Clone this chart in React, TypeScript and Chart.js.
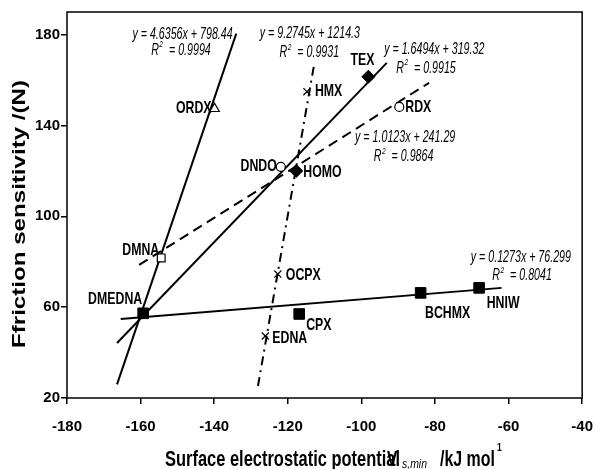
import React, { useEffect, useRef } from 'react';
import { Chart, registerables } from 'chart.js';
Chart.register(...registerables);

// ---- axis ticks ----
const xTicks = [-180, -160, -140, -120, -100, -80, -60, -40];
const yTicks = [20, 60, 100, 140, 180];

// ---- data points ----
const sqNames = ['DMEDNA', 'CPX', 'BCHMX', 'HNIW'];
const sqX = [-159.3, -116.9, -83.9, -68.0];
const sqY = [57.3, 57.0, 66.3, 68.5];

const dmNames = ['TEX', 'HOMO'];
const dmX = [-98.1, -117.7];
const dmY = [161.5, 120.0];

const circNames = ['RDX', 'DNDO'];
const circX = [-89.7, -121.9];
const circY = [148.2, 121.8];

const triNames = ['ORDX'];
const triX = [-139.9];
const triY = [147.4];

const osqNames = ['DMNA'];
const osqX = [-154.4];
const osqY = [81.7];

const crossNames = ['HMX', 'OCPX', 'EDNA'];
const crossX = [-114.8, -122.7, -126.1];
const crossY = [154.9, 74.6, 47.3];

// ---- trend line end points ----
const fitSteepX = [-166.4, -134.0];
const fitSteepY = [26.0, 180.5];
const fitTexX = [-166.4, -93.1];
const fitTexY = [44.2, 167.6];
const fitDashX = [-160.4, -81.6];
const fitDashY = [78.6, 158.8];
const fitDotX = [-128.1, -112.9];
const fitDotY = [25.3, 166.3];
const fitSqX = [-165.4, -61.9];
const fitSqY = [54.8, 68.5];

// ---- equation annotations ----
const eqTexts = ['y = 4.6356x + 798.44', 'y = 9.2745x + 1214.3', 'y = 1.6494x + 319.32', 'y = 1.0123x + 241.29', 'y = 0.1273x + 76.299'];
const eqR2 = ['0.9994', '0.9931', '0.9915', '0.9864', '0.8041'];
const eqX = [-148.6, -114.0, -80.2, -88.1, -56.65];
const eqY = [180.0, 180.4, 173.4, 134.6, 81.7];
const r2X = [-149.1, -114.2, -82.5, -88.6, -56.4];
const r2Y = [172.9, 172.0, 165.0, 126.2, 73.8];

const pts = (xs: number[], ys: number[]) => xs.map((x, i) => ({ x, y: ys[i] }));

// label pixel offsets relative to marker: [dx, dy, align]
const labelOffsets: Record<string, [number, number, string]> = {
  DMEDNA: [-1, -14, 'right'],
  CPX: [7, 11, 'left'],
  BCHMX: [27, 20, 'center'],
  HNIW: [24, 15, 'center'],
  TEX: [-6, -16, 'center'],
  HOMO: [7, 1, 'left'],
  RDX: [6, 0, 'left'],
  DNDO: [-4, 0, 'right'],
  ORDX: [-3, 0, 'right'],
  DMNA: [-2, -8, 'right'],
  HMX: [8, 0, 'left'],
  OCPX: [8, 1, 'left'],
  EDNA: [7, 2, 'left'],
};

const FAM = '"Liberation Sans", Arial, sans-serif';

function drawScaled(ctx: CanvasRenderingContext2D, text: string, x: number, y: number, font: string, sx: number, align: string, sy = 1) {
  ctx.save();
  ctx.font = font;
  ctx.textBaseline = 'middle';
  ctx.textAlign = 'left';
  const w = ctx.measureText(text).width * sx;
  const left = align === 'left' ? x : align === 'right' ? x - w : x - w / 2;
  ctx.translate(left, y);
  ctx.scale(sx, sy);
  ctx.fillText(text, 0, 0);
  ctx.restore();
  return w;
}

function textW(ctx: CanvasRenderingContext2D, text: string, font: string) {
  ctx.save();
  ctx.font = font;
  const w = ctx.measureText(text).width;
  ctx.restore();
  return w;
}

const annotPlugin = {
  id: 'annot',
  afterDraw(chart: any) {
    const ctx: CanvasRenderingContext2D = chart.ctx;
    const xs = chart.scales.x;
    const ys = chart.scales.y;
    const ca = chart.chartArea;
    ctx.save();
    ctx.fillStyle = '#000';
    // frame
    ctx.strokeStyle = '#000';
    ctx.lineWidth = 1.5;
    ctx.strokeRect(ca.left, ca.top, ca.right - ca.left, ca.bottom - ca.top);

    // point labels
    const labFont = `bold 14px ${FAM}`;
    const groups: [string[], number[], number[]][] = [
      [sqNames, sqX, sqY], [dmNames, dmX, dmY], [circNames, circX, circY],
      [triNames, triX, triY], [osqNames, osqX, osqY], [crossNames, crossX, crossY],
    ];
    groups.forEach(([names, gx, gy]) => {
      names.forEach((n, i) => {
        const px = xs.getPixelForValue(gx[i]);
        const py = ys.getPixelForValue(gy[i]);
        const o = labelOffsets[n] || [6, 0, 'left'];
        drawScaled(ctx, n, px + o[0], py + o[1], labFont, 0.88, o[2], 1.2);
      });
    });

    // equations
    const eqFont = `italic 13px ${FAM}`;
    const supFont = `italic 8px ${FAM}`;
    const SX = 0.82;
    const SY = 1.2;
    eqTexts.forEach((t, i) => {
      drawScaled(ctx, t, xs.getPixelForValue(eqX[i]), ys.getPixelForValue(eqY[i]), eqFont, SX, 'center', SY);
      const cx = xs.getPixelForValue(r2X[i]);
      const cy = ys.getPixelForValue(r2Y[i]);
      const p1 = 'R';
      const p2 = '2';
      const p3 = '  = ' + eqR2[i];
      const w1 = textW(ctx, p1, eqFont) * SX;
      const w2 = textW(ctx, p2, supFont) * SX;
      const w3 = textW(ctx, p3, eqFont) * SX;
      let left = cx - (w1 + w2 + w3) / 2;
      drawScaled(ctx, p1, left, cy, eqFont, SX, 'left', SY);
      left += w1 + 0.5;
      drawScaled(ctx, p2, left, cy - 6, supFont, SX, 'left', SY);
      left += w2;
      drawScaled(ctx, p3, left, cy, eqFont, SX, 'left', SY);
    });

    // y title
    ctx.save();
    ctx.translate(20, 214);
    ctx.rotate(-Math.PI / 2);
    const ytFont = `bold 18px ${FAM}`;
    const yt = 'Ffriction sensitivity /(N)';
    const ytw = textW(ctx, yt, ytFont);
    drawScaled(ctx, yt, 0, 0, ytFont, 268 / ytw, 'center');
    ctx.restore();

    // x title
    const xtFont = `bold 18px ${FAM}`;
    const part1 = 'Surface electrostatic potential';
    const w1 = textW(ctx, part1, xtFont);
    drawScaled(ctx, part1, 165, 460, xtFont, 235 / w1, 'left', 1.2);
    drawScaled(ctx, 'V', 387, 460, xtFont, 0.85, 'left', 1.2);
    drawScaled(ctx, 's,min', 402, 465, `italic 11px ${FAM}`, 0.95, 'left', 1.1);
    const part3 = '/kJ mol';
    const w3 = textW(ctx, part3, xtFont);
    drawScaled(ctx, part3, 440, 460, xtFont, 55 / w3, 'left', 1.2);
    drawScaled(ctx, '1', 497, 448, `bold 10px ${FAM}`, 0.85, 'left', 1.1);

    ctx.restore();
  },
};

export default function App() {
  const ref = useRef<HTMLCanvasElement>(null);
  useEffect(() => {
    if (!ref.current) return;
    const black = '#000';
    const lineDs = (xsA: number[], ysA: number[], dash: number[]) => ({
      data: pts(xsA, ysA),
      showLine: true,
      pointRadius: 0,
      borderColor: black,
      borderWidth: 2,
      borderDash: dash,
      order: 10,
    });
    const chart = new Chart(ref.current, {
      type: 'scatter',
      data: {
        datasets: [
          lineDs(fitSteepX, fitSteepY, []),
          lineDs(fitTexX, fitTexY, []),
          lineDs(fitDashX, fitDashY, [10, 6]),
          lineDs(fitDotX, fitDotY, [9, 5, 2, 5]),
          lineDs(fitSqX, fitSqY, []),
          {
            data: pts(sqX, sqY), pointStyle: 'rect', pointRadius: 7.5,
            backgroundColor: black, borderColor: black, borderWidth: 1, order: 1,
          },
          {
            data: pts(dmX, dmY), pointStyle: 'rectRot', pointRadius: 6.5,
            backgroundColor: black, borderColor: black, borderWidth: 1, order: 1,
          },
          {
            data: pts(circX, circY), pointStyle: 'circle', pointRadius: 4.5,
            backgroundColor: '#fff', borderColor: black, borderWidth: 1.2, order: 1,
          },
          {
            data: pts(triX, triY), pointStyle: 'triangle', pointRadius: 5.5,
            backgroundColor: '#fff', borderColor: black, borderWidth: 1.2, order: 1,
          },
          {
            data: pts(osqX, osqY), pointStyle: 'rect', pointRadius: 5.5,
            backgroundColor: '#fff', borderColor: black, borderWidth: 1.2, order: 1,
          },
          {
            data: pts(crossX, crossY), pointStyle: 'crossRot', pointRadius: 5,
            backgroundColor: black, borderColor: black, borderWidth: 1.2, order: 1,
          },
        ],
      },
      options: {
        animation: false,
        responsive: false,
        layout: { padding: { top: 12, right: 10, left: 0, bottom: 0 } },
        plugins: { legend: { display: false }, tooltip: { enabled: false } },
        scales: {
          x: {
            type: 'linear',
            min: -180,
            max: -40,
            afterBuildTicks: (s: any) => { s.ticks = xTicks.map((v) => ({ value: v })); },
            afterFit: (s: any) => { s.height = 71; },
            border: { display: false },
            grid: { drawOnChartArea: false, drawTicks: true, tickLength: 6, color: black, lineWidth: 1.5 },
            ticks: { color: black, font: { family: FAM, weight: 'bold', size: 15 }, padding: 14, maxRotation: 0 },
          },
          y: {
            type: 'linear',
            min: 20,
            max: 190,
            afterBuildTicks: (s: any) => { s.ticks = yTicks.map((v) => ({ value: v })); },
            afterFit: (s: any) => { s.width = 67; },
            border: { display: false },
            grid: { drawOnChartArea: false, drawTicks: true, tickLength: 6, color: black, lineWidth: 1.5 },
            ticks: { color: black, font: { family: FAM, weight: 'bold', size: 15 }, padding: 1 },
          },
        },
      },
      plugins: [annotPlugin],
    } as any);
    return () => chart.destroy();
  }, []);
  return (
    <div style={{ position: 'fixed', left: 0, top: 0, width: 607, height: 469, background: '#fff' }}>
      <canvas ref={ref} width={607} height={469} style={{ display: 'block' }} />
    </div>
  );
}
